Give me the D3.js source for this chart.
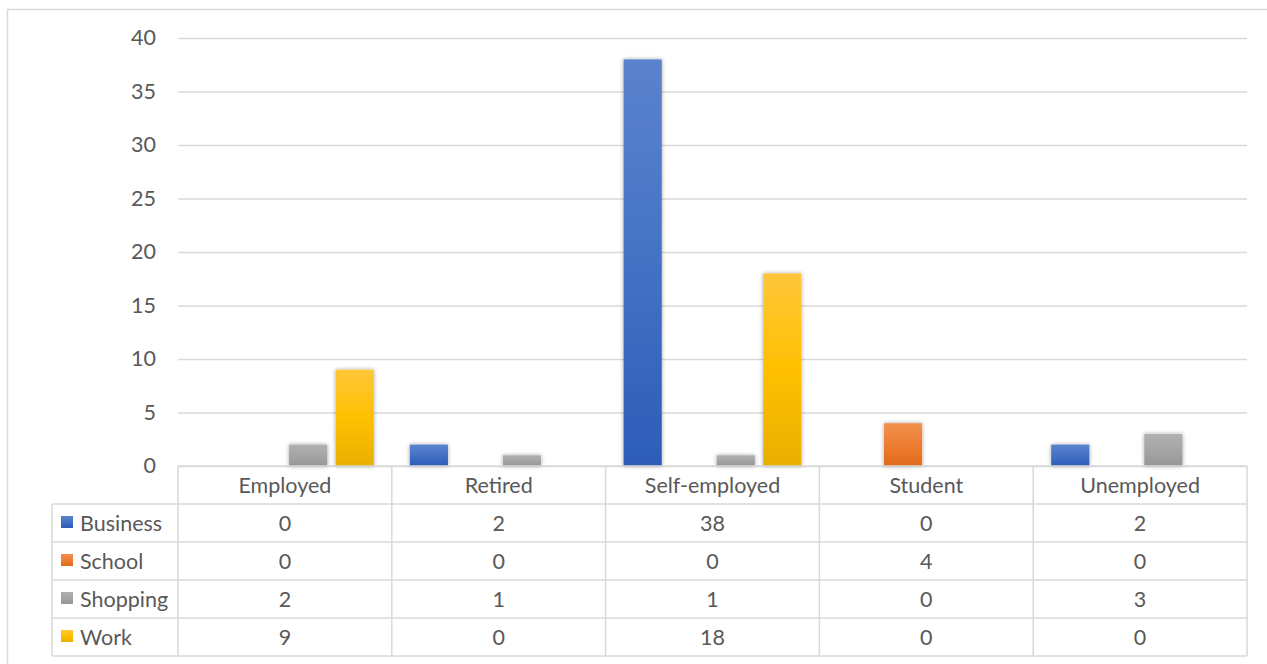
<!DOCTYPE html>
<html>
<head>
<meta charset="utf-8">
<script src="https://cdn.jsdelivr.net/npm/d3@7"></script>
<style>
    body { margin: 0; background: #fff; }
    svg text { font-family: Lato, "Open Sans", sans-serif; fill: #595959; }
</style>
</head>
<body>
<div id="chart"></div>
<script>
"use strict";

// chart data
const categories = ["Employed", "Retired", "Self-employed", "Student", "Unemployed"];
const seriesNames = ["Business", "School", "Shopping", "Work"];
const business = [0, 2, 38, 0, 2];
const school = [0, 0, 0, 4, 0];
const shopping = [2, 1, 1, 0, 3];
const work = [9, 0, 18, 0, 0];
const yTicks = [0, 5, 10, 15, 20, 25, 30, 35, 40];

const seriesValues = [business, school, shopping, work];
// base, light top, dark bottom
const seriesColors = [
    ["#4472c4", "#5b83cd", "#2d5cb8"],
    ["#ed7d31", "#f1914f", "#e06b1c"],
    ["#a5a5a5", "#b1b1b1", "#969696"],
    ["#ffc000", "#ffc63a", "#e8af00"]
];

const width = 1267;
const height = 664;
const fontSize = "21.5px";

// plot area settings
const plot = { left: 178, right: 1247, top: 38, bottom: 466 };
const rowHeight = 38;
const legendLeft = 52;

let svg = d3.select("#chart").append("svg")
    .attr("width", width)
    .attr("height", height);

let defs = svg.append("defs");

// gradients for bars
seriesColors.forEach((c, i) => {
    let g = defs.append("linearGradient")
        .attr("id", "grad" + i)
        .attr("x1", 0).attr("y1", 0).attr("x2", 0).attr("y2", 1);
    g.append("stop").attr("offset", "0%").attr("stop-color", c[1]);
    g.append("stop").attr("offset", "50%").attr("stop-color", c[0]);
    g.append("stop").attr("offset", "100%").attr("stop-color", c[2]);
});

// soft shadow like the office charts
defs.append("filter")
    .attr("id", "shadow")
    .attr("x", "-30%").attr("y", "-30%").attr("width", "160%").attr("height", "160%")
    .append("feDropShadow")
    .attr("dx", 0).attr("dy", 0)
    .attr("stdDeviation", 2)
    .attr("flood-color", "#000")
    .attr("flood-opacity", 0.35);

// outer chart border
svg.append("rect")
    .attr("x", 7.5).attr("y", 9.5)
    .attr("width", 1400).attr("height", 800)
    .attr("fill", "none")
    .attr("stroke", "#d9d9d9")
    .attr("stroke-width", 1.5);

// scales
let x0 = d3.scaleBand()
    .domain(categories)
    .range([plot.left, plot.right]);

let x1 = d3.scaleBand()
    .domain(seriesNames)
    .range([18, x0.bandwidth() - 18])
    .paddingInner(0.18);

let y = d3.scaleLinear()
    .domain([0, 40])
    .range([plot.bottom, plot.top]);

// y gridlines and labels
let yAxis = d3.axisLeft(y)
    .tickValues(yTicks)
    .tickSizeInner(-(plot.right - plot.left))
    .tickSizeOuter(0)
    .tickPadding(22);

let gy = svg.append("g")
    .attr("class", "y axis")
    .attr("transform", "translate(" + plot.left + ",0)")
    .call(yAxis);

gy.select(".domain").remove();
gy.selectAll(".tick line")
    .attr("stroke", "#d9d9d9")
    .attr("stroke-width", 1.5);
gy.selectAll(".tick text")
    .style("font-size", fontSize)
    .attr("fill", "#595959");

// bars
let groups = svg.selectAll(".group")
    .data(categories)
    .enter()
    .append("g")
    .attr("class", "group")
    .attr("transform", d => "translate(" + x0(d) + ",0)");

groups.selectAll("rect")
    .data((d, ci) => seriesNames.map((s, si) => ({ series: s, si: si, value: seriesValues[si][ci] })))
    .enter()
    .filter(d => d.value > 0)
    .append("rect")
    .attr("x", d => x1(d.series))
    .attr("y", d => y(d.value))
    .attr("width", x1.bandwidth())
    .attr("height", d => y(0) - y(d.value))
    .attr("fill", d => "url(#grad" + d.si + ")")
    .attr("filter", "url(#shadow)");

// data table
let table = svg.append("g").attr("class", "data-table");
let tableBottom = plot.bottom + rowHeight * (seriesNames.length + 1);
let lineStyle = sel => sel.attr("stroke", "#d9d9d9").attr("stroke-width", 1.5).attr("fill", "none");

// horizontal lines
table.append("line")
    .attr("x1", plot.left).attr("x2", plot.right)
    .attr("y1", plot.bottom).attr("y2", plot.bottom)
    .call(lineStyle);
for (let r = 1; r <= seriesNames.length + 1; r++) {
    table.append("line")
        .attr("x1", legendLeft).attr("x2", plot.right)
        .attr("y1", plot.bottom + r * rowHeight).attr("y2", plot.bottom + r * rowHeight)
        .call(lineStyle);
}

// vertical lines
table.append("line")
    .attr("x1", legendLeft).attr("x2", legendLeft)
    .attr("y1", plot.bottom + rowHeight).attr("y2", tableBottom)
    .call(lineStyle);
categories.forEach(c => {
    table.append("line")
        .attr("x1", x0(c)).attr("x2", x0(c))
        .attr("y1", plot.bottom).attr("y2", tableBottom)
        .call(lineStyle);
});
table.append("line")
    .attr("x1", plot.right).attr("x2", plot.right)
    .attr("y1", plot.bottom).attr("y2", tableBottom)
    .call(lineStyle);

// header row
table.selectAll(".cat-label")
    .data(categories)
    .enter()
    .append("text")
    .attr("class", "cat-label")
    .attr("x", d => x0(d) + x0.bandwidth() / 2)
    .attr("y", plot.bottom + rowHeight / 2)
    .attr("dy", "0.35em")
    .style("text-anchor", "middle")
    .style("font-size", fontSize)
    .text(d => d);

// series rows
seriesNames.forEach((s, si) => {
    let rowMid = plot.bottom + rowHeight * (si + 1) + rowHeight / 2;

    table.append("rect")
        .attr("x", 61).attr("y", rowMid - 7)
        .attr("width", 12).attr("height", 12)
        .attr("fill", "url(#grad" + si + ")");

    table.append("text")
        .attr("x", 80)
        .attr("y", rowMid)
        .attr("dy", "0.35em")
        .style("font-size", fontSize)
        .text(s);

    categories.forEach((c, ci) => {
        table.append("text")
            .attr("x", x0(c) + x0.bandwidth() / 2)
            .attr("y", rowMid)
            .attr("dy", "0.35em")
            .style("text-anchor", "middle")
            .style("font-size", fontSize)
            .text(seriesValues[si][ci]);
    });
});
</script>
</body>
</html>
